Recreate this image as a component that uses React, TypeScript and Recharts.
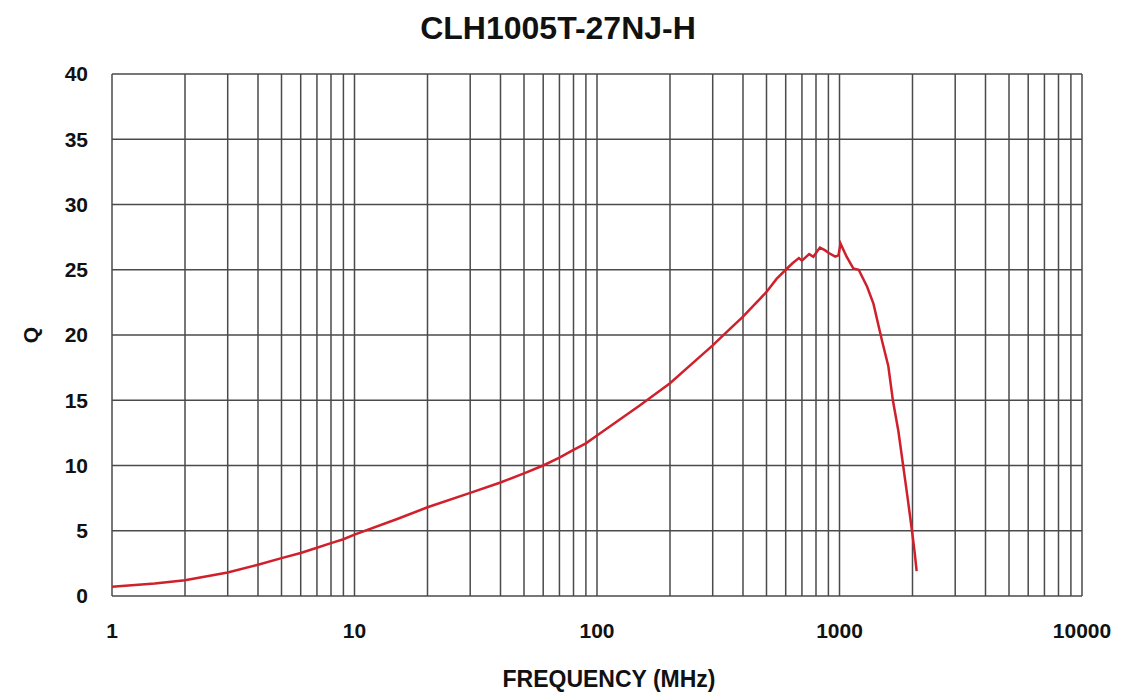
import { CartesianGrid, Line, LineChart, ReferenceLine, XAxis, YAxis } from 'recharts'

// frequency in MHz, Q
const freqMHz = [
  1, 1.5, 2, 3, 4, 5, 6, 7, 8, 9, 10, 15, 20, 30, 40, 50, 60, 70, 80, 90, 100, 150, 200, 250, 300,
  350, 400, 450, 500, 550, 600, 640, 680, 700, 750, 780, 830, 870, 900, 960, 990, 1010, 1070, 1140,
  1200, 1300, 1380, 1500, 1590, 1660, 1750, 1830, 1910, 1990, 2040, 2080,
]
const qValues = [
  0.7, 0.95, 1.2, 1.8, 2.4, 2.9, 3.3, 3.7, 4.05, 4.35, 4.7, 5.9, 6.8, 7.9, 8.7, 9.4, 10.0, 10.6, 11.2,
  11.7, 12.3, 14.6, 16.3, 17.9, 19.2, 20.4, 21.4, 22.4, 23.3, 24.3, 25.0, 25.5, 25.9, 25.7, 26.2, 26.0,
  26.7, 26.5, 26.3, 26.0, 26.1, 27.0, 26.0, 25.1, 25.0, 23.7, 22.4, 19.5, 17.6, 15.0, 12.6, 10.0, 7.5,
  5.0, 3.4, 1.9,
]

const xTicks = [1, 10, 100, 1000, 10000]
const yTicks = [0, 5, 10, 15, 20, 25, 30, 35, 40]
const minorMultipliers = [2, 3, 4, 5, 6, 7, 8, 9]
const decades = [1, 10, 100, 1000]

const chartData = freqMHz.map((f, i) => ({ f, q: qValues[i] }))
const gridXs = [...xTicks, ...decades.flatMap((d) => minorMultipliers.map((m) => m * d))]

const W = 1146
const H = 695
const font = '"Liberation Sans", Arial, sans-serif'
const gridColor = '#4a4a4a'

export default function App() {
  return (
    <div style={{ position: 'absolute', left: 0, top: 0, width: W, height: H, background: '#fff' }}>
      <LineChart
        width={W}
        height={H}
        data={chartData}
        margin={{ top: 74, right: 64, bottom: 0, left: 0 }}
      >
        <CartesianGrid vertical={false} stroke={gridColor} strokeWidth={1.5} />
        {gridXs.map((x) => (
          <ReferenceLine key={x} x={x} stroke={gridColor} strokeWidth={1.5} />
        ))}
        <XAxis
          dataKey="f"
          type="number"
          scale="log"
          domain={[1, 10000]}
          ticks={xTicks}
          allowDataOverflow
          height={99}
          tickSize={0}
          tickMargin={27}
          axisLine={false}
          tick={{ fill: '#111', fontSize: 21, fontWeight: 700, fontFamily: font }}
        />
        <YAxis
          type="number"
          domain={[0, 40]}
          ticks={yTicks}
          width={112}
          tickSize={0}
          tickMargin={24}
          axisLine={false}
          tick={{ fill: '#111', fontSize: 21, fontWeight: 700, fontFamily: font }}
        />
        <Line
          type="linear"
          dataKey="q"
          stroke="#d0202c"
          strokeWidth={2.5}
          dot={false}
          isAnimationActive={false}
        />
      </LineChart>
      <svg
        width={W}
        height={H}
        style={{ position: 'absolute', left: 0, top: 0, pointerEvents: 'none' }}
      >
        <text x={558} y={39} textAnchor="middle" fontFamily={font} fontWeight={700} fontSize={32} fill="#111">
          CLH1005T-27NJ-H
        </text>
        <text x={609} y={687} textAnchor="middle" fontFamily={font} fontWeight={700} fontSize={23} fill="#111">
          FREQUENCY (MHz)
        </text>
        <text
          x={30}
          y={335}
          textAnchor="middle"
          dominantBaseline="central"
          transform="rotate(-90 30 335)"
          fontFamily={font}
          fontWeight={700}
          fontSize={21}
          fill="#111"
        >
          Q
        </text>
      </svg>
    </div>
  )
}
